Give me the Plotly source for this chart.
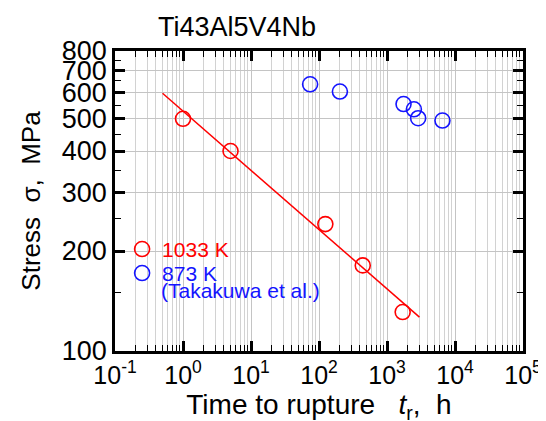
import plotly.graph_objects as go

# Data
t_1033 = [1, 5, 124, 440, 1700]          # time to rupture, h
s_1033 = [500, 400, 241, 181, 131]       # stress, MPa
fit_t = [0.5, 3000]                      # regression line ends, h
fit_s = [597, 126.5]                     # regression line ends, MPa
t_873 = [74, 203, 1750, 2485, 2870, 6540]
s_873 = [635, 604, 554, 534, 502, 494]

x_tickvals = [0.1, 1, 10, 100, 1000, 10000, 100000]
x_ticktext = ["10<sup>-1</sup>", "10<sup>0</sup>", "10<sup>1</sup>", "10<sup>2</sup>",
              "10<sup>3</sup>", "10<sup>4</sup>", "10<sup>5</sup>"]
y_tickvals = [100, 200, 300, 400, 500, 600, 700, 800]
y_ticktext = ["100", "200", "300", "400", "500", "600", "700", "800"]
y_minor = [150, 250, 350, 450, 550, 650, 750]

FONT = "Arial, Liberation Sans, sans-serif"
RED = "#ff0000"
BLUE = "#1414ff"

fig = go.Figure()
fig.add_trace(go.Scatter(x=fit_t, y=fit_s, mode="lines",
                         line=dict(color=RED, width=1.5), showlegend=False))
fig.add_trace(go.Scatter(x=t_1033, y=s_1033, mode="markers",
                         name="1033 K", legend="legend",
                         marker=dict(symbol="circle-open", size=15, color=RED,
                                     line=dict(width=1.6, color=RED))))
fig.add_trace(go.Scatter(x=t_873, y=s_873, mode="markers",
                         name="873 K", legend="legend2",
                         marker=dict(symbol="circle-open", size=15, color=BLUE,
                                     line=dict(width=1.6, color=BLUE))))

fig.update_layout(
    width=546, height=421,
    margin=dict(l=107, r=20, t=43, b=78),
    paper_bgcolor="white", plot_bgcolor="white",
    font=dict(family=FONT, color="black"),
    title=dict(text="Ti43Al5V4Nb", x=150/546, xanchor="left", xref="container",
               y=1-19/421, yanchor="middle", yref="container",
               font=dict(size=27, color="black")),
    legend=dict(x=0.0174, y=0.407, xanchor="left", yanchor="top", bgcolor="rgba(0,0,0,0)",
                font=dict(size=21, color=RED), itemwidth=30),
    legend2=dict(x=0.0174, y=0.327, xanchor="left", yanchor="top", bgcolor="rgba(0,0,0,0)",
                 font=dict(size=21, color=BLUE), itemwidth=30),
    showlegend=True,
    annotations=[dict(text="(Takakuwa et al.)", xref="paper", yref="paper",
                      x=(152-107)/419.3, y=(343-282)/300.3, xanchor="left", yanchor="middle",
                      showarrow=False, font=dict(size=21, color=BLUE))],
)

fig.update_xaxes(
    type="log", range=[-1, 5],
    tickmode="array", tickvals=x_tickvals, ticktext=x_ticktext,
    ticks="inside", ticklen=10, tickwidth=2.5, tickcolor="black",
    showline=True, linewidth=2.5, linecolor="black", mirror="ticks",
    showgrid=True, gridcolor="#c4c4c4", gridwidth=1,
    tickfont=dict(size=25, family=FONT),
    minor=dict(ticks="inside", ticklen=6, tickwidth=1, tickcolor="black",
               showgrid=True, gridcolor="#d2d2d2", gridwidth=1, dtick="D1"),
    title=dict(text="Time to rupture\u00a0\u00a0 <i>t</i><sub>r</sub>,\u00a0 h",
               font=dict(size=28), standoff=0),
    zeroline=False,
)
fig.update_yaxes(
    type="log", range=[2, 2.90309],
    tickmode="array", tickvals=y_tickvals, ticktext=y_ticktext,
    ticks="inside", ticklen=10, tickwidth=2.5, tickcolor="black",
    showline=True, linewidth=2.5, linecolor="black", mirror="ticks",
    showgrid=True, gridcolor="#c4c4c4", gridwidth=1,
    tickfont=dict(size=27, family=FONT),
    minor=dict(tickmode="array", tickvals=y_minor, ticks="inside", ticklen=6,
               tickwidth=1, tickcolor="black", showgrid=False),
    title=dict(text="Stress\u00a0 \u03c3,\u00a0 MPa", font=dict(size=26), standoff=14),
    zeroline=False,
)

fig.write_html("out.html")
